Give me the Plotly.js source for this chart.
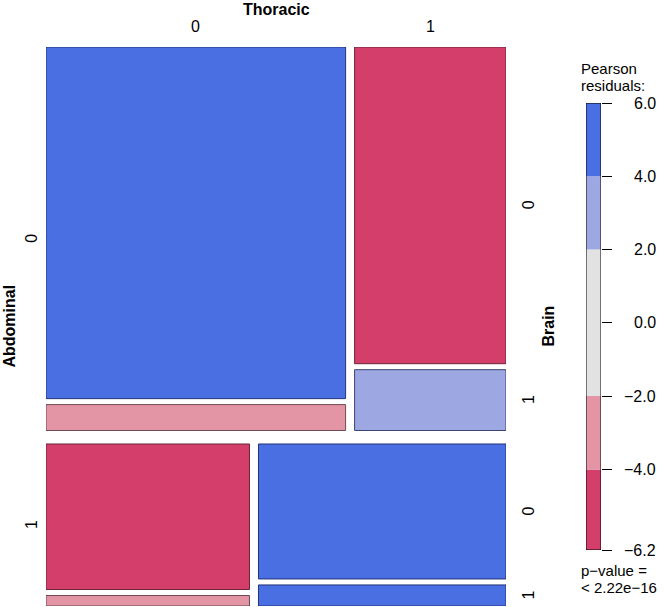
<!DOCTYPE html>
<html>
<head>
<meta charset="utf-8">
<script src="https://cdn.plot.ly/plotly-3.0.1.min.js"></script>
<style>body{margin:0;background:#fff;}</style>
</head>
<body>
<div id="mosaic" style="width:664px;height:607px"></div>
<script>
"use strict";

// niveaux des trois variables
var abdominal = ['0', '1'];
var thoracic = ['0', '1'];
var brain = ['0', '1'];

// effectifs [abdominal][thoracic][brain]
var counts = [
  [[435, 32], [198, 38]],
  [[125, 9], [141, 22]]
];

// residus de Pearson de chaque case
var residuals = [
  [[5.2, -3.0], [-5.0, 3.1]],
  [[-6.2, -2.5], [6.0, 4.6]]
];

// legende
var legendBreaks = [-6.2, -4, -2, 2, 4, 6];
var legendColors = ['#D33F6A', '#E495A5', '#E2E2E2', '#9DA8E2', '#4A6FE3'];
var legendBorders = ['#6B2436', '#6E4A52', '#707070', '#3C4270', '#22337A'];
var legendTicks = [-6.2, -4, -2, 0, 2, 4, 6];
var legendTickText = ['\u22126.2', '\u22124.0', '\u22122.0', '0.0', '2.0', '4.0', '6.0'];
var pValueText = '< 2.22e\u221216';

var W = 460, H = 559;           // zone du mosaic (unites des axes)
var PW = 616;                   // largeur du papier
var gapA = 13.5, gapT = 9, gapB = 6;
var font = 'Liberation Sans, Arial, sans-serif';

// les annotations hors de l'axe sont cachees, on passe en coordonnees papier
function px(x) { return x / PW; }
function py(y) { return 1 - y / H; }

function colorIndex(r) {
  //cherche la classe de la legende qui contient le residu
  for (var i = 0; i < legendColors.length; i++) {
    if (r <= legendBreaks[i + 1]) return i;
  }
  return legendColors.length - 1;
}

function sum(arr) {
  return arr.reduce(function(a, b) { return a + b; }, 0);
}

function label(x, y, text, angle) {
  annotations.push({
    xref: 'paper', yref: 'paper', x: px(x), y: py(y),
    xanchor: 'center', yanchor: 'middle',
    text: text, showarrow: false, textangle: angle || 0,
    font: {size: 16, color: '#000'}
  });
}

var shapes = [];
var annotations = [];

var rowTot = counts.map(function(row) {
  return sum(row.map(sum));
});
var N = sum(rowTot);

var y = 0;
var availH = H - gapA * (abdominal.length - 1);
counts.forEach(function(row, a) {
  var rowH = availH * rowTot[a] / N;
  var x = 0;
  var availW = W - gapT * (thoracic.length - 1);
  row.forEach(function(cell, t) {
    var cellTot = sum(cell);
    var colW = availW * cellTot / rowTot[a];
    var cellH = rowH - gapB * (brain.length - 1);
    var yy = y;
    cell.forEach(function(n, b) {
      var h = cellH * n / cellTot;
      var ci = colorIndex(residuals[a][t][b]);
      shapes.push({
        type: 'rect', xref: 'x', yref: 'y',
        x0: x, x1: x + colW, y0: yy, y1: yy + h,
        fillcolor: legendColors[ci],
        line: {color: legendBorders[ci], width: 1}
      });
      //etiquettes de Brain a droite
      if (t === thoracic.length - 1) {
        label(W + 22, yy + h / 2, brain[b], -90);
      }
      yy += h + gapB;
    });
    //etiquettes de Thoracic en haut
    if (a === 0) {
      label(x + colW / 2, -20, thoracic[t]);
    }
    x += colW + gapT;
  });
  //etiquettes de Abdominal a gauche
  label(-14, y + rowH / 2, abdominal[a], -90);
  y += rowH + gapA;
});

// noms des variables
label(W / 2, -37, '<b>Thoracic</b>');
label(-37, H / 2, '<b>Abdominal</b>', -90);
label(W + 42, H / 2, '<b>Brain</b>', -90);

// barre de legende
for (var i = 0; i < legendColors.length; i++) {
  shapes.push({
    type: 'rect', xref: 'x2', yref: 'y2',
    x0: 0, x1: 1, y0: legendBreaks[i], y1: legendBreaks[i + 1],
    fillcolor: legendColors[i], line: {width: 0}
  });
}
shapes.push({
  type: 'rect', xref: 'x2', yref: 'y2',
  x0: 0, x1: 1, y0: legendBreaks[0], y1: legendBreaks[legendBreaks.length - 1],
  fillcolor: 'rgba(0,0,0,0)', line: {color: '#000', width: 1}
});

// valeurs de la legende, alignees a droite
legendTicks.forEach(function(v, i) {
  annotations.push({
    xref: 'paper', yref: 'y2', x: px(658 - 46), y: v,
    xanchor: 'right', yanchor: 'middle', text: legendTickText[i], showarrow: false,
    font: {size: 16, color: '#000'}
  });
});

[['Pearson', 68], ['residuals:', 85], ['p\u2212value =', 570], [pValueText, 587]].forEach(function(l) {
  annotations.push({
    xref: 'paper', yref: 'paper', x: px(579 - 46), y: py(l[1] - 47),
    xanchor: 'left', yanchor: 'middle', text: l[0], showarrow: false,
    font: {size: 15, color: '#000'}
  });
});

var data = [
  {x: [0], y: [0], xaxis: 'x', yaxis: 'y', mode: 'markers', marker: {opacity: 0}, hoverinfo: 'skip', showlegend: false},
  {x: [0], y: [0], xaxis: 'x2', yaxis: 'y2', mode: 'markers', marker: {opacity: 0}, hoverinfo: 'skip', showlegend: false}
];

var layout = {
  width: 664, height: 607,
  margin: {l: 46, r: 2, t: 47, b: 1},
  paper_bgcolor: '#fff', plot_bgcolor: 'rgba(0,0,0,0)',
  font: {family: font, size: 16, color: '#000'},
  showlegend: false,
  xaxis: {domain: [0, W / PW], range: [0, W], visible: false, fixedrange: true},
  yaxis: {domain: [0, 1], range: [H, 0], visible: false, fixedrange: true},
  xaxis2: {domain: [px(586 - 46), px(601 - 46)], range: [0, 1], anchor: 'y2',
    showgrid: false, zeroline: false, showline: false, showticklabels: false, ticks: ''},
  yaxis2: {domain: [py(550 - 47), py(103 - 47)], range: [legendBreaks[0], legendBreaks[legendBreaks.length - 1]],
    anchor: 'x2', side: 'right', showgrid: false, zeroline: false, showline: false,
    ticks: 'outside', ticklen: 10, tickcolor: '#000', tickwidth: 1,
    tickmode: 'array', tickvals: legendTicks, showticklabels: false},
  shapes: shapes,
  annotations: annotations
};

Plotly.newPlot('mosaic', data, layout, {displayModeBar: false, staticPlot: true});
</script>
</body>
</html>
